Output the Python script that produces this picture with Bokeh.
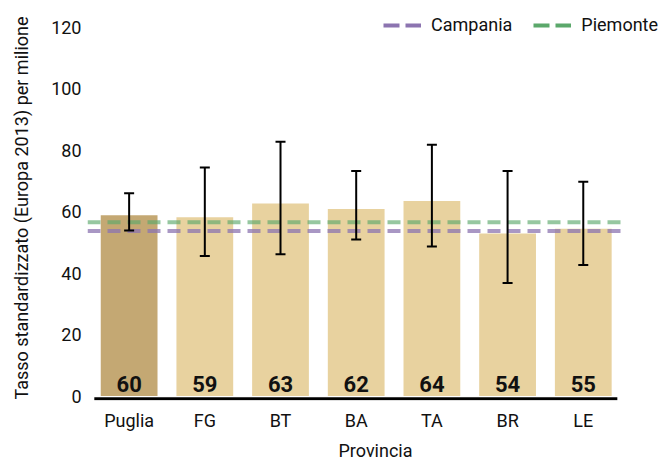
from bokeh.plotting import figure
from bokeh.models import (Range1d, FixedTicker, Whisker, TeeHead,
                          ColumnDataSource, Legend, LegendItem)
from bokeh.core.properties import value
from bokeh.embed import file_html
from bokeh.resources import INLINE

# ---- data ----
categories = ["Puglia", "FG", "BT", "BA", "TA", "BR", "LE"]
rates = [58.9, 58.2, 62.7, 60.9, 63.5, 52.9, 54.5]
rate_labels = ["60", "59", "63", "62", "64", "54", "55"]
ci_upper = [66.0, 74.4, 82.8, 73.3, 81.8, 73.3, 69.8]
ci_lower = [53.9, 45.6, 46.2, 51.0, 48.7, 36.8, 42.7]
ref_names = ["Campania", "Piemonte"]
ref_values = [53.7, 56.6]
y_ticks = [0, 20, 40, 60, 80, 100, 120]

FONT = "Roboto"
bar_colors = ["#C4A873"] + ["#E8D29F"] * (len(categories) - 1)
ref_colors = ["#8C74B0", "#5BA86B"]
ref_alphas = [0.75, 0.64]

X_START, X_END = -0.55, 7.06
xs = list(range(len(categories)))
src = ColumnDataSource(dict(x=xs, rate=rates, label=rate_labels,
                            upper=ci_upper, lower=ci_lower, color=bar_colors))

p = figure(width=663, height=463, output_backend="svg", toolbar_location=None,
           x_range=Range1d(X_START, X_END), y_range=Range1d(-1.45, 123.9),
           min_border_left=87, min_border_right=0, min_border_top=15,
           min_border_bottom=58)
p.outline_line_color = None
p.grid.visible = False

p.vbar(x="x", top="rate", bottom=0, width=0.75, fill_color="color",
       line_color=None, source=src)

# x axis baseline
p.segment(x0=xs[0] - 0.46, x1=xs[-1] + 0.45, y0=-0.9, y1=-0.9,
          line_color="black", line_width=3)

# reference lines (regional rates)
ref_x = [X_START, xs[-1] + 0.525]
for v, c, a in zip(ref_values, ref_colors, ref_alphas):
    p.line(x=ref_x, y=[v, v], line_color=c, line_alpha=a, line_width=4,
           line_dash="13 7")

wh = Whisker(base="x", upper="upper", lower="lower", source=src,
             line_color="black", line_width=2, level="annotation",
             upper_head=TeeHead(size=10, line_color="black", line_width=2),
             lower_head=TeeHead(size=10, line_color="black", line_width=2))
p.add_layout(wh)

p.text(x="x", y=0, text="label", source=src, text_align="center",
       text_baseline="alphabetic", y_offset=-12, text_font=value(FONT),
       text_font_style="bold", text_font_size="22px", text_color="#111111")

# legend (glyph-only renderers, nothing drawn in the plot)
nan = float("nan")
items = []
for name, c in zip(ref_names, ref_colors):
    r = p.line(x=[0, 1], y=[nan, nan], line_color=c, line_width=4,
               line_dash="16 6")
    items.append(LegendItem(label=name, renderers=[r]))
leg = Legend(items=items, orientation="horizontal", location=(296, 365),
             padding=0, margin=0, spacing=21, glyph_width=38, glyph_height=20,
             label_standoff=10, label_text_font=FONT, label_text_font_size="18px",
             label_text_color="#111111", border_line_color=None,
             background_fill_alpha=0)
p.add_layout(leg, "center")

# axes
p.xaxis.ticker = FixedTicker(ticks=xs)
p.xaxis.major_label_overrides = {i: c for i, c in enumerate(categories)}
p.xaxis.axis_label = "Provincia"
p.yaxis.ticker = FixedTicker(ticks=y_ticks)
p.yaxis.axis_label = "Tasso standardizzato (Europa 2013) per milione"
for ax in (p.xaxis[0], p.yaxis[0]):
    ax.axis_line_color = None
    ax.major_tick_line_color = None
    ax.minor_tick_line_color = None
    ax.major_tick_out = 0
    ax.minor_tick_out = 0
    ax.major_tick_in = 0
    ax.minor_tick_in = 0
    ax.major_label_text_font = FONT
    ax.major_label_text_font_size = "18px"
    ax.major_label_text_color = "#111111"
    ax.axis_label_text_font = FONT
    ax.axis_label_text_font_size = "18px"
    ax.axis_label_text_font_style = "normal"
    ax.axis_label_text_color = "#111111"
p.xaxis.major_label_standoff = 9
p.xaxis.axis_label_standoff = 6
p.yaxis.major_label_standoff = 6
p.yaxis.axis_label_standoff = 16

open("out.html", "w").write(file_html(p, INLINE))
